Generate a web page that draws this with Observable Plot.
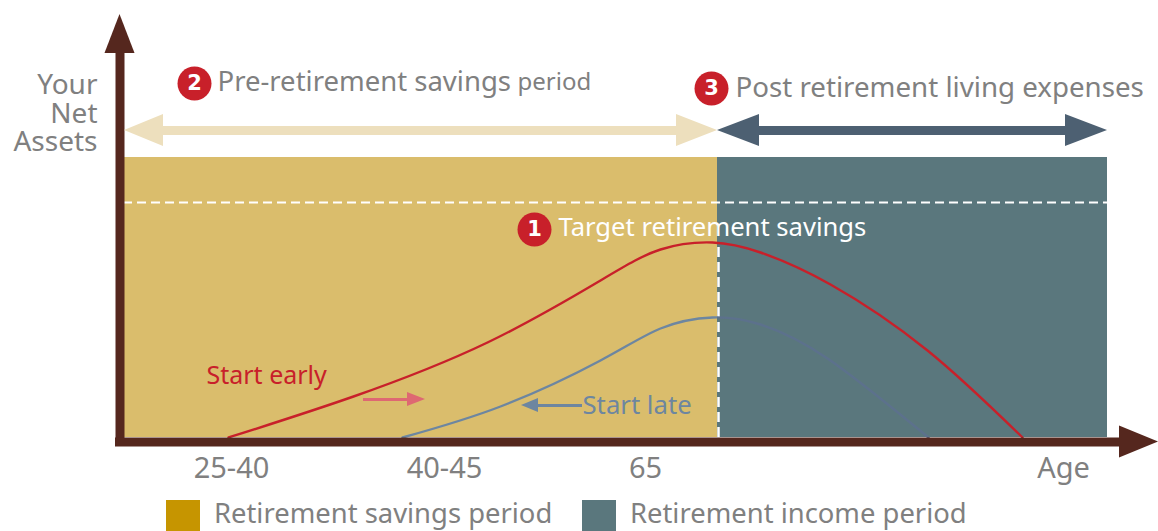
<!DOCTYPE html>
<html><head><meta charset="utf-8">
<script src="https://cdn.jsdelivr.net/npm/d3@7"></script>
<script src="https://cdn.jsdelivr.net/npm/@observablehq/plot@0.6"></script>
<style>
html,body{margin:0;padding:0;background:#fff;overflow:hidden}
#legend{display:block;position:relative;height:31px;font:27.4px/31px "Noto Sans",sans-serif;color:#808080;overflow:visible}
#legend .sw{position:absolute;top:0;width:34px;height:31px}
#legend .tx{position:absolute;top:-3px;height:31px;line-height:31px;white-space:nowrap}
svg{display:block}
</style></head><body>
<div id="chart"></div>
<div id="legend"></div>
<script>
// Horizontal position along the age axis, vertical = net assets (both)
const periods = [
  {name:"Retirement savings period", x1:124, x2:717, color:"#dabd6c", swatch:"#c69500", swatchX:166, textX:214},
  {name:"Retirement income period",  x1:717, x2:1107, color:"#5a777d", swatch:"#5a777d", swatchX:582, textX:630}
];
const bandTop = 280, targetLevel = 235;
const startEarly = [[228,0],[353,41],[487,95],[600,157],[660,188],[712,195],[760,185],[830,153],[927,87],[1022,0]];
const startLate  = [[402,0],[500,31],[600,77],[660,109],[712,120],[760,113],[827,79],[928,0]];
const tickPositions = [231,444,645,1063];
const tickLabels = ["25-40","40-45","65","Age"];
const badges = [["2",194,354],["1",534,208],["3",711,349]];
const headings = [
  {t:"Pre-retirement savings",x:217,y:355,s:27.5,c:"#808080"},
  {t:"period",x:517,y:355,s:24,c:"#808080"},
  {t:"Post retirement living expenses",x:735,y:349,s:27.7,c:"#808080"},
  {t:"Target retirement savings",x:558,y:210,s:25.6,c:"#ffffff"},
  {t:"Start early",x:206,y:62,s:25,c:"#c8202a"},
  {t:"Start late",x:582,y:32,s:25.7,c:"#6d86a0"}
];
const yTitle = "Your\nNet\nAssets";
// shafts: x1,x2,y,width,colour
const hShafts = [
  [160,680,307,9,"#eddfbd"],[755,1070,307,9,"#4d6072"],
  [115,1122,-4.5,9,"#55271e"],[363,410,38,3,"#de6872"],[535,582,32,3,"#6d86a0"]
];
// heads: base x, tip x, y, half width, colour
const hHeads = [
  [163,124,307,16,"#eddfbd"],[676,717,307,16,"#eddfbd"],[759,717,307,16,"#4d6072"],[1065,1107,307,16,"#4d6072"],
  [1119,1158,-4.5,16,"#55271e"],[407,425,38,7,"#de6872"],[538,521,32,7,"#6d86a0"]
];
const hHeadData = hHeads.flatMap((h,i)=>[{i,x:h[0],y1:h[2]-h[3],y2:h[2]+h[3],c:h[4]},{i,x:h[1],y1:h[2],y2:h[2],c:h[4]}]);
const vHead = [{y:384,x1:104.5,x2:134.5},{y:423,x1:119.5,x2:119.5}];
const brown = "#55271e";

// two-tone stroke for the late-start curve: it darkens where it crosses into the income period
function lateGradient(index, scales){
  const ns="http://www.w3.org/2000/svg";
  const defs=document.createElementNS(ns,"defs");
  const g=document.createElementNS(ns,"linearGradient");
  g.setAttribute("id","lateStroke");g.setAttribute("gradientUnits","userSpaceOnUse");
  g.setAttribute("x1",scales.x(0));g.setAttribute("x2",scales.x(1158));g.setAttribute("y1",0);g.setAttribute("y2",0);
  const split=717/1158;
  for(const [o,c] of [[0,"#6d86a0"],[split,"#6d86a0"],[split,"#5c718c"],[1,"#5c718c"]]){
    const s=document.createElementNS(ns,"stop");s.setAttribute("offset",o);s.setAttribute("stop-color",c);g.append(s);
  }
  defs.append(g);return defs;
}

const plot = Plot.plot({
  width:1158, height:500, marginTop:0, marginRight:0, marginBottom:63, marginLeft:0,
  x:{domain:[0,1158], range:[0,1158], axis:null},
  y:{domain:[0,437], range:[437,0], axis:null},
  style:{background:"transparent", fontFamily:"'Noto Sans',sans-serif"},
  marks:[
    lateGradient,
    Plot.rectY(periods,{x1:"x1",x2:"x2",y1:0,y2:bandTop,fill:"color"}),
    Plot.ruleY([targetLevel],{x1:123,x2:1107,stroke:"#fff",strokeWidth:2,strokeDasharray:"9,5"}),
    Plot.ruleX([718],{y1:0,y2:195,stroke:"#fff",strokeWidth:2.5,strokeDasharray:"10,5"}),
    Plot.line(startLate,{x:d=>d[0],y:d=>d[1],stroke:"url(#lateStroke)",strokeWidth:2.4,curve:"natural"}),
    Plot.line(startEarly,{x:d=>d[0],y:d=>d[1],stroke:"#c8202a",strokeWidth:2.4,curve:"natural"}),
    Plot.ruleX([119.5],{y1:-9,y2:390,stroke:brown,strokeWidth:9}),
    Plot.ruleY(hShafts,{y:d=>d[2],x1:d=>d[0],x2:d=>d[1],stroke:d=>d[4],strokeWidth:d=>d[3]}),
    ...d3.groups(hHeadData,d=>d.i).map(([,g])=>Plot.areaY(g,{x:"x",y1:"y1",y2:"y2",fill:g[0].c,curve:"linear"})),
    Plot.areaX(vHead,{y:"y",x1:"x1",x2:"x2",fill:brown}),
    Plot.dot(badges,{x:d=>d[1],y:d=>d[2],r:17,fill:"#c8202a"}),
    Plot.text(badges,{x:d=>d[1],y:d=>d[2],text:d=>d[0],fill:"#fff",fontSize:21,fontWeight:"bold",fontFamily:"'DejaVu Sans',sans-serif"}),
    Plot.text(headings,{x:"x",y:"y",text:"t",fontSize:"s",textAnchor:"start",fill:d=>d.c}),
    Plot.text([yTitle],{x:97,y:324,text:d=>d,fontSize:28,lineHeight:1.02,textAnchor:"end",fill:"#808080"}),
    Plot.axisX({ticks:tickPositions,tickFormat:d=>tickLabels[tickPositions.indexOf(d)],tickSize:0,tickPadding:20,fontSize:29,color:"#808080",anchor:"bottom",label:null})
  ]
});
document.getElementById("chart").append(plot);
const lg = document.getElementById("legend");
for(const p of periods){
  const s=document.createElement("div");s.className="sw";s.style.left=p.swatchX+"px";s.style.background=p.swatch;lg.append(s);
  const t=document.createElement("div");t.className="tx";t.style.left=p.textX+"px";t.textContent=p.name;lg.append(t);
}
</script></body></html>
